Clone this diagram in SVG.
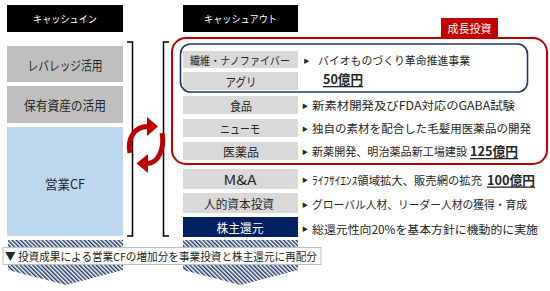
<svg xmlns="http://www.w3.org/2000/svg" width="550" height="291" viewBox="0 0 550 291">
<defs>
<pattern id="hatch" patternUnits="userSpaceOnUse" width="3" height="10" patternTransform="rotate(-45)">
<rect x="0" y="0" width="3" height="10" fill="#ffffff"/>
<rect x="0" y="0" width="1.5" height="10" fill="#203864"/>
</pattern>
<style>
text{font-family:"Noto Sans CJK JP","Noto Sans CJK SC",sans-serif;dominant-baseline:central;}
.hd{fill:#000000;}
.hdt{fill:#ffffff;font-size:10px;text-anchor:middle;}
.lb{fill:#bfbfbf;}
.rb{fill:#d9d9d9;}
.lt{font-size:13px;fill:#262626;text-anchor:middle;}
.rt{font-size:12px;fill:#262626;text-anchor:middle;}
.ds{font-size:11.5px;fill:#262626;}
.ds11{font-size:11px;}
.bu{font-size:6px;fill:#262626;}
.amt{font-size:13px;font-weight:bold;fill:#262626;text-decoration:underline;}
.br{fill:none;stroke:#000000;stroke-width:1.5;}
.ca{fill:none;stroke:#c00000;stroke-width:5;}
</style>
</defs>
<rect width="550" height="291" fill="#ffffff"/>

<g id="header-in"><rect class="hd" x="7" y="5" width="116" height="27"/><text class="hdt" x="65" y="18.5" textLength="64" lengthAdjust="spacingAndGlyphs">キャッシュイン</text></g>
<g id="header-out"><rect class="hd" x="183" y="5" width="115" height="27"/><text class="hdt" x="240.5" y="18.5" textLength="73" lengthAdjust="spacingAndGlyphs">キャッシュアウト</text></g>

<g id="in-leverage"><rect class="lb" x="7" y="46" width="116" height="36"/><text class="lt" x="65" y="64" textLength="75" lengthAdjust="spacingAndGlyphs">レバレッジ活用</text></g>
<g id="in-assets"><rect class="lb" x="7" y="86" width="116" height="37"/><text class="lt" x="65" y="104.5" textLength="82" lengthAdjust="spacingAndGlyphs">保有資産の活用</text></g>
<g id="in-cf"><rect fill="#bdd7ee" x="7" y="127" width="116" height="109"/><text class="lt" x="65" y="183" textLength="40" lengthAdjust="spacingAndGlyphs">営業CF</text></g>

<g id="connectors">
<path class="br" d="M127,42 H132.5 V236 H127"/>
<path class="br" d="M169,42 H163.5 V236 H169"/>
<path class="ca" d="M130,153 C127,139 134,126.5 148,126.5"/>
<polygon fill="#c00000" points="147,117 158,126.5 147,136"/>
<path class="ca" d="M162,133 C165,149 158,163.5 147,163.5"/>
<polygon fill="#c00000" points="148,154 136.5,163.5 148,173"/>
</g>

<g id="growth-frame">
<rect x="172" y="38" width="375" height="126" rx="14" fill="none" stroke="#c00000" stroke-width="2"/>
<rect x="441" y="18" width="57" height="20" fill="#c00000"/>
<text x="469.5" y="28" fill="#ffffff" font-size="11" text-anchor="middle">成長投資</text>
</g>

<g id="fiber">
<rect class="rb" x="183" y="51" width="115" height="17"/>
<text class="rt" x="240" y="59.5" style="font-size:11px" textLength="100" lengthAdjust="spacingAndGlyphs">繊維・ナノファイバー</text>
</g>
<g id="agri">
<rect class="rb" x="183" y="72" width="115" height="18"/>
<text class="rt" x="241" y="81" textLength="31" lengthAdjust="spacingAndGlyphs">アグリ</text>
</g>
<g id="bio-frame">
<rect x="180.5" y="44" width="347" height="48" rx="10" fill="none" stroke="#1f3864" stroke-width="1.6"/>
<text class="bu" x="303.5" y="60">▶</text>
<text class="ds ds11" x="318" y="60" textLength="152" lengthAdjust="spacingAndGlyphs">バイオものづくり革命推進事業</text>
<text class="amt" x="323" y="78.5" textLength="40" lengthAdjust="spacingAndGlyphs">50億円</text>
</g>

<g id="food">
<rect class="rb" x="183" y="96" width="115" height="18"/>
<text class="rt" x="241" y="105" textLength="22" lengthAdjust="spacingAndGlyphs">食品</text>
<text class="bu" x="302" y="105">▶</text>
<text class="ds" x="312" y="105" textLength="203" lengthAdjust="spacingAndGlyphs">新素材開発及びFDA対応のGABA試験</text>
</g>
<g id="numo">
<rect class="rb" x="183" y="119" width="115" height="18"/>
<text class="rt" x="240" y="128" textLength="40" lengthAdjust="spacingAndGlyphs">ニューモ</text>
<text class="bu" x="302" y="128">▶</text>
<text class="ds" x="312" y="128" textLength="219" lengthAdjust="spacingAndGlyphs">独自の素材を配合した毛髪用医薬品の開発</text>
</g>
<g id="pharma">
<rect class="rb" x="183" y="142" width="115" height="18"/>
<text class="rt" x="241" y="151" textLength="36" lengthAdjust="spacingAndGlyphs">医薬品</text>
<text class="bu" x="302" y="151">▶</text>
<text class="ds ds11" x="312" y="151" textLength="155" lengthAdjust="spacingAndGlyphs">新薬開発、明治薬品新工場建設</text>
<text class="amt" x="470" y="150.5" textLength="48" lengthAdjust="spacingAndGlyphs">125億円</text>
</g>
<g id="ma">
<rect class="rb" x="183" y="169" width="115" height="20"/>
<text class="rt" x="240" y="179" style="font-size:13px" textLength="33" lengthAdjust="spacingAndGlyphs">M&amp;A</text>
<text class="bu" x="302" y="179.5">▶</text>
<text class="ds" x="312" y="179.5" textLength="170" lengthAdjust="spacingAndGlyphs">ﾗｲﾌｻｲｴﾝｽ領域拡大、販売網の拡充</text>
<text class="amt" x="487" y="179" textLength="48" lengthAdjust="spacingAndGlyphs">100億円</text>
</g>
<g id="human">
<rect class="rb" x="183" y="193" width="115" height="20"/>
<text class="rt" x="239" y="203" textLength="70" lengthAdjust="spacingAndGlyphs">人的資本投資</text>
<text class="bu" x="302" y="204">▶</text>
<text class="ds ds11" x="312" y="204" textLength="215" lengthAdjust="spacingAndGlyphs">グローバル人材、リーダー人材の獲得・育成</text>
</g>
<g id="return">
<rect fill="#002060" x="183" y="217" width="115" height="20"/>
<text class="rt" x="240" y="227" style="fill:#ffffff" textLength="47" lengthAdjust="spacingAndGlyphs">株主還元</text>
<text class="bu" x="302" y="228.5">▶</text>
<text class="ds" x="312" y="228.5" textLength="226" lengthAdjust="spacingAndGlyphs">総還元性向20%を基本方針に機動的に実施</text>
</g>

<g id="realloc">
<polygon fill="url(#hatch)" points="8,240 123,240 123,270 66,285 8,270"/>
<polygon fill="url(#hatch)" points="183,240 298,240 298,270 240.5,285 183,270"/>
<rect x="3" y="247.5" width="318" height="17" fill="#ffffff" stroke="#bfbfbf" stroke-width="1"/>
<text class="ds" x="5" y="256" style="font-size:11px" textLength="312" lengthAdjust="spacingAndGlyphs">▼ 投資成果による営業CFの増加分を事業投資と株主還元に再配分</text>
</g>
</svg>
